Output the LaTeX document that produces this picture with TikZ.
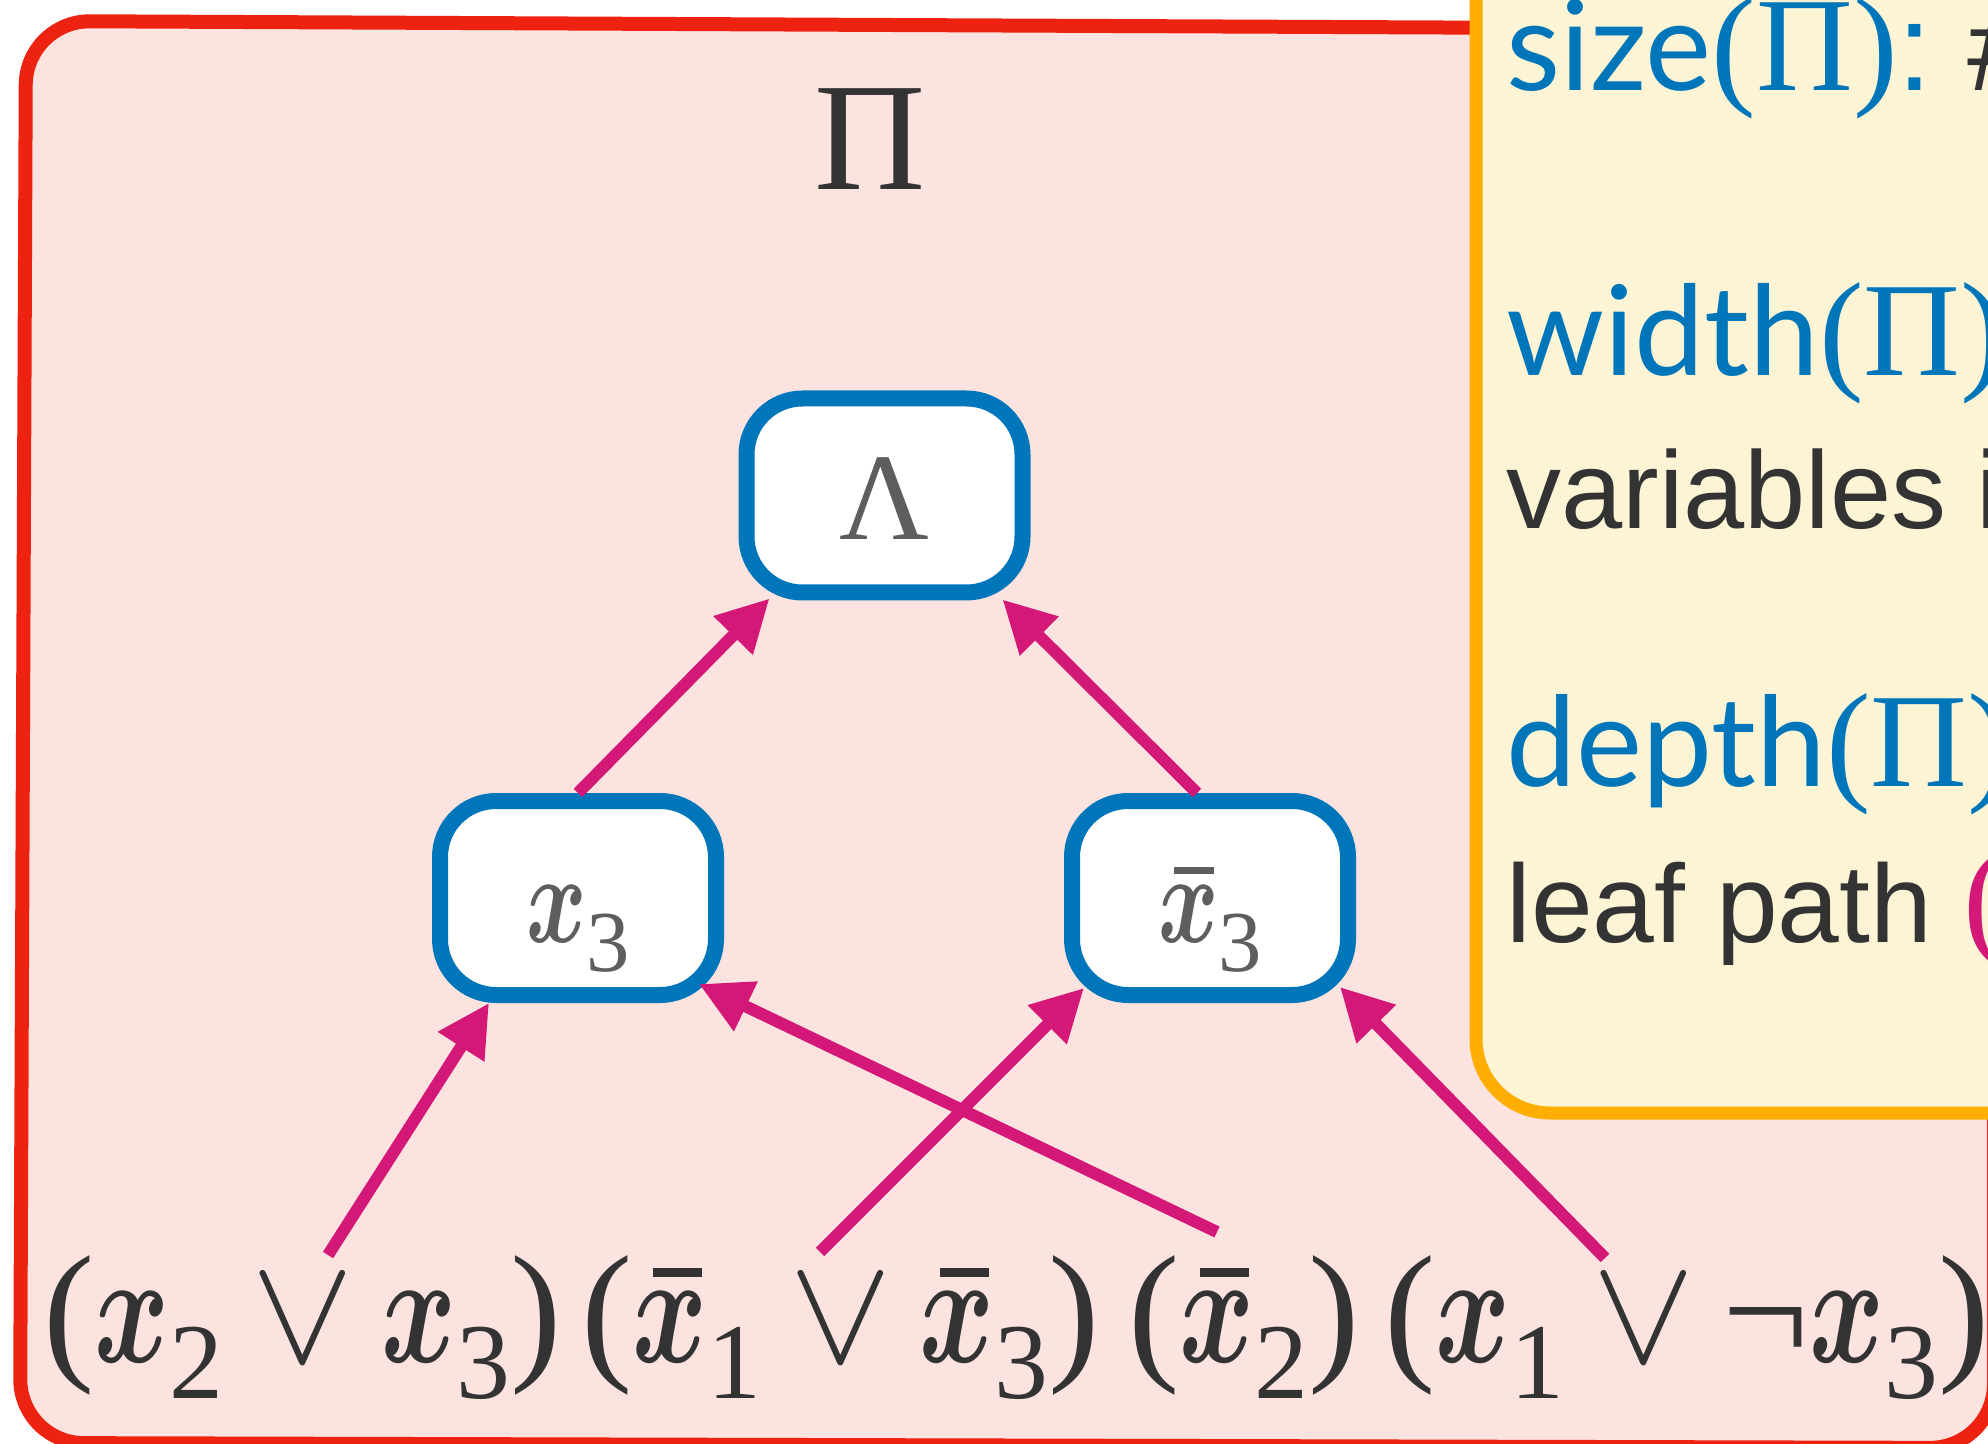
\RequirePackage{fix-cm}
\documentclass[tikz,border=0pt]{standalone}
\usepackage{fontspec}
\usepackage{graphicx}
\usetikzlibrary{arrows.meta,calc}
\setmainfont{Liberation Serif}
\newfontfamily\tms{Liberation Serif}
\newfontfamily\lato{Lato}
\newfontfamily\lib{Liberation Sans}
\definecolor{redfill}{HTML}{FDE3E0}
\definecolor{redline}{HTML}{EE2210}
\definecolor{yfill}{HTML}{FDF4D5}
\definecolor{yline}{HTML}{FEAE00}
\definecolor{blu}{HTML}{0076BA}
\definecolor{mag}{HTML}{D31877}
\definecolor{dark}{HTML}{333333}
\definecolor{ngray}{HTML}{5E5E5E}
\newcommand\fs[1]{\fontsize{#1}{#1}\selectfont}
\newcommand\vx{\scalebox{0.74}[1.03]{\boldmath$x$}}
\newcommand\sbs[1]{\raisebox{-0.24em}{\scalebox{0.7}{#1}}}
\newcommand\xbr{\rlap{\hspace{0.13em}\rule[0.55em]{0.32em}{0.058em}}\vx}
\newcommand\orv{\hspace{0.18em}$\vee$\hspace{0.18em}}
\tikzset{
  lit/.style={draw=blu, line width=8pt, fill=white, rounded corners=28pt,
    minimum width=138pt, minimum height=97pt, inner sep=0pt,
    text height=44pt, text depth=0pt, text=ngray, font=\fs{62pt}\tms},
  arr/.style={draw=mag, line width=6pt, -{Triangle[length=26pt,width=26pt]}},
  clause/.style={anchor=base west, inner sep=0pt, text=dark, font=\fs{77pt}\tms},
  yline/.style={anchor=base west, inner sep=0pt}
}
\begin{document}
\begin{tikzpicture}[x=0.5pt,y=-0.5pt]
\useasboundingbox (0,0) rectangle (1988,1444);
\clip (0,0) rectangle (1988,1444);
\fill[white] (0,0) rectangle (1988,1444);
% outer red panel
\draw[line width=7pt, draw=redline, fill=redfill, rounded corners=32pt]
  (1000,25.5) -- (1994,30) -- (1994,1448) -- (20,1443) -- (26,21) -- cycle;
% yellow panel
\draw[line width=6.5pt, draw=yline, fill=yfill, rounded corners=37pt]
  (1476,-200) rectangle (2200,1113);
% title
\node[anchor=base, inner sep=0pt, text=dark, font=\fs{77pt}\tms] (title) at (870.5,190) {Π};
% tree nodes
\node[lit] (L) at (884.5,495.5) {Λ};
\node[lit] (X) at (578,898) {\vx\sbs{3}};
\node[lit] (Y) at (1210,898) {\xbr\sbs{3}};
% clauses
\node[clause] (c1) at (43,1362) {(\vx\sbs{2}\orv\vx\sbs{3})};
\node[clause] (c2) at (581,1362) {(\xbr\sbs{1}\orv\xbr\sbs{3})};
\node[clause] (c3) at (1128,1362) {(\xbr\sbs{2})};
\node[clause] (c4) at (1384,1362) {(\vx\sbs{1}\orv¬\vx\sbs{3})};
\coordinate (s1) at (328,1255);
\coordinate (s2) at (820,1252);
\coordinate (s3) at (1217,1232);
\coordinate (s4) at (1605,1258);
% arrows
\draw[arr] (s1) -- ($(X.south west)+(57,0)$);
\draw[arr] (s3) -- ($(X.south east)+(-25,-19)$);
\draw[arr] (s2) -- ($(Y.south west)+(20,-15)$);
\draw[arr] (s4) -- ($(Y.south east)+(-16,-16)$);
\draw[arr] (X.north) -- ($(L.south west)+(31,-2)$);
\draw[arr] ($(Y.north)+(-13,0)$) -- ($(L.south east)+(-28,-1)$);
% yellow panel text
\node[yline] (t1) at (1506,91) {{\fs{62.5pt}\lato\color{blu}size}{\fs{67pt}\tms\color{blu}(Π)}{\fs{62.5pt}\lib\color{blu}:}{\fs{62.5pt}\lib\color{dark}\ \#}};
\node[yline] (t2) at (1506,376) {{\fs{62.5pt}\lato\color{blu}width}{\fs{67pt}\tms\color{blu}(Π)}};
\node[yline] (t3) at (1506,529) {\fs{55pt}\lib\color{dark}variables i};
\node[yline] (t4) at (1506,786) {{\fs{62.5pt}\lato\color{blu}depth}{\fs{67pt}\tms\color{blu}(Π)}};
\node[yline] (t5) at (1506,942) {{\fs{55.5pt}\lib\color{dark}leaf path\ }{\fs{67pt}\tms\color{mag}(}};
\end{tikzpicture}
\end{document}
